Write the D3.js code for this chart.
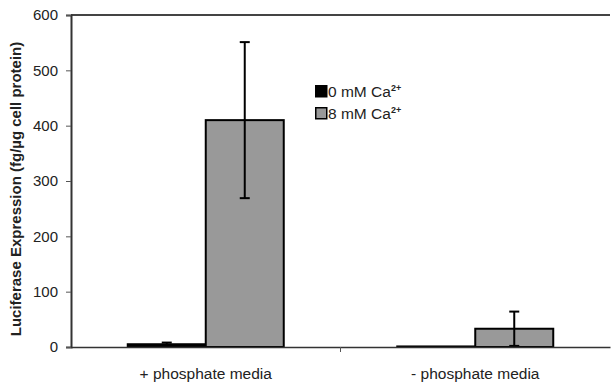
<!DOCTYPE html>
<html>
<head>
<meta charset="utf-8">
<script src="https://cdn.jsdelivr.net/npm/d3@7"></script>
<style>
  body { margin: 0; background: #fff; }
  text { font-family: "Liberation Sans", Arial, sans-serif; }
</style>
</head>
<body>
<div id="chart"></div>
<script>
var svgWidth = 611;
var svgHeight = 387;

// data
var categories = ["+ phosphate media", "- phosphate media"];
var seriesNames = ["0 mM Ca", "8 mM Ca"];
var seriesColors = ["#000000", "#999999"];
var values0 = [5, 1];
var values8 = [410, 33];
var errors0 = [3, 0];
var errors8 = [141, 31];
var yTicks = [0, 100, 200, 300, 400, 500, 600];

var margin = { top: 15, right: 1, bottom: 40, left: 71 };
var width = svgWidth - margin.left - margin.right;
var height = svgHeight - margin.top - margin.bottom;

var svg = d3.select("#chart")
  .append("svg")
  .attr("width", svgWidth)
  .attr("height", svgHeight);

var g = svg.append("g")
  .attr("transform", "translate(" + margin.left + "," + margin.top + ")");

var x0 = d3.scaleBand().domain(categories).range([0, width]);
var x1 = d3.scaleBand().domain(seriesNames).range([0, 156]);
var y = d3.scaleLinear().domain([0, 600]).range([height, 0]);

// top frame line
g.append("line")
  .attr("x1", 0).attr("x2", width)
  .attr("y1", y(600)).attr("y2", y(600))
  .attr("stroke", "#444").attr("stroke-width", 2);

// y axis
var yAxis = g.append("g")
  .call(d3.axisLeft(y).tickValues(yTicks).tickSize(5).tickPadding(8));
yAxis.select(".domain").attr("stroke", "#333").attr("stroke-width", 2);
yAxis.selectAll(".tick line").attr("stroke", "#555");
yAxis.selectAll("text").attr("font-size", 15).attr("fill", "#222")
  .style("font-family", "Liberation Sans, Arial, sans-serif");

// bars
var rows = categories.map(function(c, i) {
  return [
    { cat: c, s: seriesNames[0], v: values0[i], e: errors0[i], color: seriesColors[0] },
    { cat: c, s: seriesNames[1], v: values8[i], e: errors8[i], color: seriesColors[1] }
  ];
});

var groups = g.selectAll(".grp")
  .data(rows)
  .enter().append("g")
  .attr("transform", function(d) {
    return "translate(" + (x0(d[0].cat) + (x0.bandwidth() - 156) / 2) + ",0)";
  });

groups.selectAll("rect")
  .data(function(d) { return d; })
  .enter().append("rect")
  .attr("x", function(d) { return x1(d.s); })
  .attr("width", x1.bandwidth())
  .attr("y", function(d) { return y(d.v); })
  .attr("height", function(d) { return y(0) - y(d.v); })
  .attr("fill", function(d) { return d.color; })
  .attr("stroke", "#000")
  .attr("stroke-width", 2);

// error bars
var eb = groups.selectAll(".err")
  .data(function(d) { return d.filter(function(p) { return p.e > 0; }); })
  .enter().append("g")
  .attr("transform", function(d) { return "translate(" + (x1(d.s) + x1.bandwidth() / 2) + ",0)"; });

eb.append("line")
  .attr("y1", function(d) { return y(Math.max(0, d.v - d.e)); })
  .attr("y2", function(d) { return y(d.v + d.e); })
  .attr("stroke", "#000").attr("stroke-width", 2);
eb.append("line")
  .attr("x1", -5).attr("x2", 5)
  .attr("y1", function(d) { return y(d.v + d.e); })
  .attr("y2", function(d) { return y(d.v + d.e); })
  .attr("stroke", "#000").attr("stroke-width", 2);
eb.append("line")
  .attr("x1", -5).attr("x2", 5)
  .attr("y1", function(d) { return y(Math.max(0, d.v - d.e)); })
  .attr("y2", function(d) { return y(Math.max(0, d.v - d.e)); })
  .attr("stroke", "#000").attr("stroke-width", 2);

// x axis
var xAxis = g.append("g")
  .attr("transform", "translate(0," + height + ")")
  .call(d3.axisBottom(x0).tickSize(0).tickPadding(21));
xAxis.select(".domain").attr("stroke", "#333").attr("stroke-width", 1.5);
xAxis.selectAll("text").attr("font-size", 15.5).attr("fill", "#222")
  .style("font-family", "Liberation Sans, Arial, sans-serif");
g.append("line")
  .attr("x1", x0(categories[1])).attr("x2", x0(categories[1]))
  .attr("y1", height).attr("y2", height + 5)
  .attr("stroke", "#555");

// y axis title
svg.append("text")
  .attr("transform", "translate(21," + (margin.top + height / 2 + 8) + ") rotate(-90)")
  .attr("text-anchor", "middle")
  .attr("font-size", 15)
  .attr("font-weight", "bold")
  .attr("fill", "#222")
  .text("Luciferase Expression (fg/\u00b5g cell protein)");

// legend
var legend = svg.append("g").attr("transform", "translate(315,85)");
seriesNames.forEach(function(name, i) {
  var row = legend.append("g").attr("transform", "translate(0," + (i * 22) + ")");
  row.append("rect")
    .attr("x", 0.75).attr("y", 0.75).attr("width", 11).attr("height", 11)
    .attr("fill", seriesColors[i]).attr("stroke", "#000").attr("stroke-width", 1.5);
  var t = row.append("text")
    .attr("x", 13).attr("y", 12)
    .attr("font-size", 15.5).attr("fill", "#222");
  t.append("tspan").text(name);
  t.append("tspan").attr("font-size", 9).attr("dy", -6).attr("font-weight", "bold").text("2+");
});
</script>
</body>
</html>
